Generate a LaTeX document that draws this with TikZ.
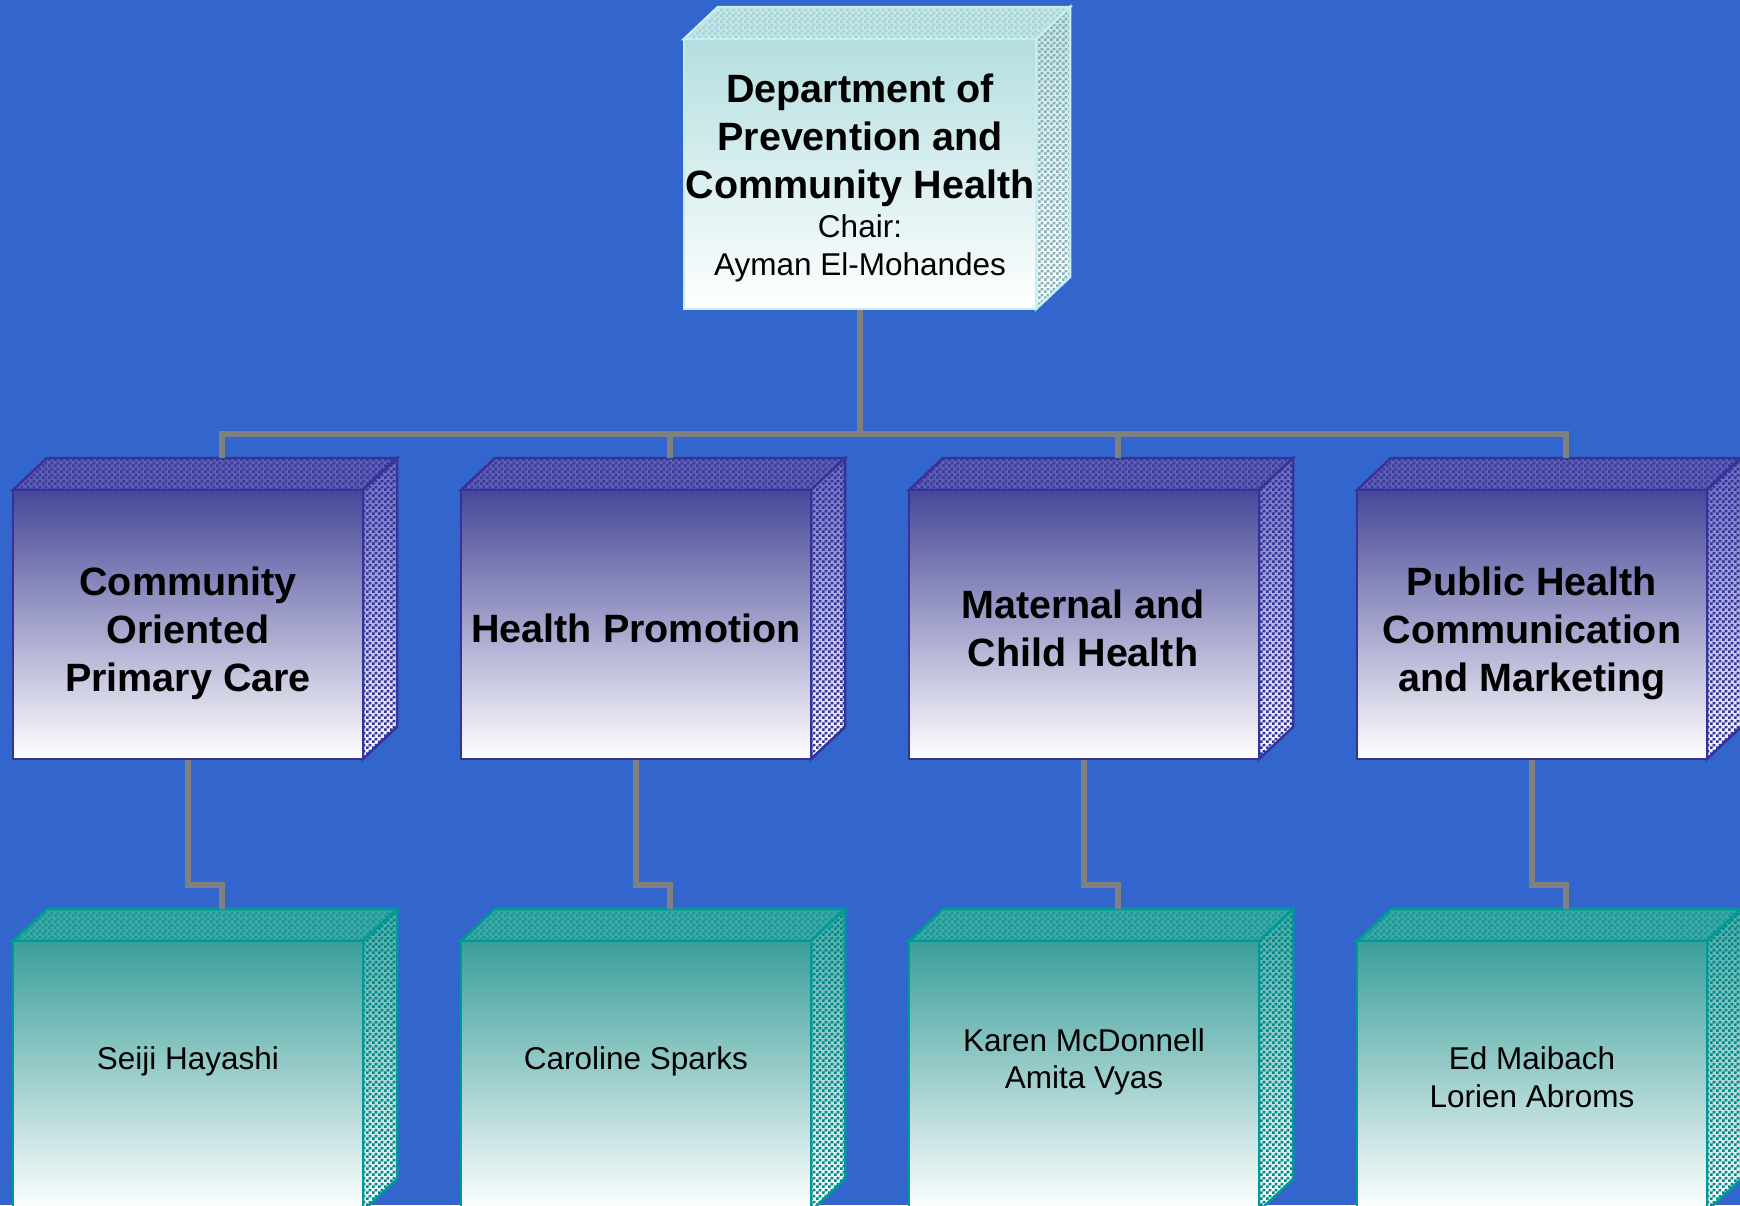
\documentclass[tikz,border=0pt]{standalone}
\usepackage{fontspec}
\setmainfont{Liberation Sans}
\usetikzlibrary{patterns.meta}
\definecolor{bgblue}{HTML}{3366CC}
\definecolor{connc}{HTML}{808080}
% violet (middle row)
\definecolor{vEdge}{HTML}{333399}
\definecolor{vFrontTop}{HTML}{474799}
\definecolor{vTopBase}{HTML}{5E5EB2}
\definecolor{vTopChk}{HTML}{3A3A9C}
\definecolor{vSideTop}{HTML}{6868BA}
\definecolor{vSideChk}{HTML}{333399}
% cyan (top)
\definecolor{cEdge}{HTML}{C6EEEE}
\definecolor{cFrontTop}{HTML}{B4DEE0}
\definecolor{cTopBase}{HTML}{C4E6E6}
\definecolor{cTopChk}{HTML}{A8D2D6}
\definecolor{cSideTop}{HTML}{C4E4E6}
\definecolor{cSideChk}{HTML}{8AAEB6}
% teal (bottom row)
\definecolor{tEdge}{HTML}{009999}
\definecolor{tFrontTop}{HTML}{3A9E9A}
\definecolor{tTopBase}{HTML}{3CAAA6}
\definecolor{tTopChk}{HTML}{1E9696}
\definecolor{tSideTop}{HTML}{44AAA6}
\definecolor{tSideChk}{HTML}{008888}
\pgfdeclarepattern{name=chk, type=uncolored,
  bottom left={\pgfpointorigin}, top right={\pgfpoint{6pt}{6pt}},
  tile size={\pgfpoint{6pt}{6pt}},
  code={\pgfpathrectangle{\pgfpointorigin}{\pgfpoint{3pt}{3pt}}%
        \pgfpathrectangle{\pgfpoint{3pt}{3pt}}{\pgfpoint{3pt}{3pt}}%
        \pgfusepath{fill}}}
\tikzset{
  conn/.style={draw=connc, line width=5.5pt, line cap=butt, line join=miter},
  edgeline/.style={line width=2.5pt, line join=miter},
  % violet
  vfront/.style={draw=vEdge, edgeline, top color=vFrontTop, bottom color=white, inner sep=0pt, rectangle},
  vtopbase/.style={fill=vTopBase}, vtopchk/.style={pattern=chk, pattern color=vTopChk}, vedge/.style={draw=vEdge, edgeline},
  vsidebase/.style={top color=vSideTop, bottom color=white}, vsidechk/.style={pattern=chk, pattern color=vSideChk},
  % cyan
  cfront/.style={draw=cEdge, edgeline, top color=cFrontTop, bottom color=white, inner sep=0pt, rectangle},
  ctopbase/.style={fill=cTopBase}, ctopchk/.style={pattern=chk, pattern color=cTopChk}, cedge/.style={draw=cEdge, edgeline},
  csidebase/.style={top color=cSideTop, bottom color=white}, csidechk/.style={pattern=chk, pattern color=cSideChk},
  % teal
  tfront/.style={draw=tEdge, edgeline, top color=tFrontTop, bottom color=white, inner sep=0pt, rectangle},
  ttopbase/.style={fill=tTopBase}, ttopchk/.style={pattern=chk, pattern color=tTopChk}, tedge/.style={draw=tEdge, edgeline},
  tsidebase/.style={top color=tSideTop, bottom color=white}, tsidechk/.style={pattern=chk, pattern color=tSideChk},
  boldtxt/.style={font=\fontsize{39.5}{48}\bfseries\selectfont, inner sep=0pt, anchor=base},
  regtxt/.style={font=\fontsize{31.5}{38}\selectfont, inner sep=0pt, anchor=base},
}
\newcommand\lns[1]{\begin{tabular}[t]{@{}c@{}}#1\end{tabular}}
% #1 name, #2 x0, #3 y0, #4 x1, #5 y1, #6 scheme letter
\newcommand\boxcube[6]{%
  \path[#6topbase] (#2,#3) -- (#2+34,#3-32) -- (#4+34,#3-32) -- (#4,#3) -- cycle;
  \path[#6topchk] (#2,#3) -- (#2+34,#3-32) -- (#4+34,#3-32) -- (#4,#3) -- cycle;
  \path[#6edge] (#2,#3) -- (#2+34,#3-32) -- (#4+34,#3-32) -- (#4,#3) -- cycle;
  \path[#6sidebase] (#4,#3) -- (#4+34,#3-32) -- (#4+34,#5-32) -- (#4,#5) -- cycle;
  \path[#6sidechk] (#4,#3) -- (#4+34,#3-32) -- (#4+34,#5-32) -- (#4,#5) -- cycle;
  \path[#6edge] (#4,#3) -- (#4+34,#3-32) -- (#4+34,#5-32) -- (#4,#5) -- cycle;
  \node[#6front, minimum width={#4-#2}, minimum height={#5-#3}] (#1) at ({(#2+#4)/2},{(#3+#5)/2}) {};
  \coordinate (#1b) at ({(#2+#4)/2+34},{#3-32});
}
\begin{document}
\begin{tikzpicture}[x=1pt,y=-1pt]
\useasboundingbox (0,0) rectangle (1740,1205);
\fill[bgblue] (0,0) rectangle (1740,1205);

% junction points of the connectors
\coordinate (bus) at (860,434);
\coordinate (j1) at (188,885);
\coordinate (j2) at (636,885);
\coordinate (j3) at (1084,885);
\coordinate (j4) at (1532,885);

% boxes (coordinates needed for connectors are defined here)
\begin{scope}[on background layer/.try]
\end{scope}
\boxcube{top}{684}{39}{1036}{309}{c}
\boxcube{m1}{13}{490}{363}{759}{v}
\boxcube{m2}{461}{490}{811}{759}{v}
\boxcube{m3}{909}{490}{1259}{759}{v}
\boxcube{m4}{1357}{490}{1707}{759}{v}
\boxcube{b1}{13}{941}{363}{1211}{t}
\boxcube{b2}{461}{941}{811}{1211}{t}
\boxcube{b3}{909}{941}{1259}{1211}{t}
\boxcube{b4}{1357}{941}{1707}{1211}{t}

% connectors
\draw[conn] (top.south) -- (bus);
\draw[conn] (bus) -| (m1b);
\draw[conn] (bus) -| (m2b);
\draw[conn] (bus) -| (m3b);
\draw[conn] (bus) -| (m4b);
\draw[conn] (m1.south) -- (j1) -| (b1b);
\draw[conn] (m2.south) -- (j2) -| (b2b);
\draw[conn] (m3.south) -- (j3) -| (b3b);
\draw[conn] (m4.south) -- (j4) -| (b4b);

% texts
\node[boldtxt] (ttop) at (860,102) {\lns{Department of\\Prevention and\\Community Health}};
\node[regtxt] (tchair) at (860,237) {\lns{Chair:\\Ayman El-Mohandes}};

\node[boldtxt] (tm1) at (188,595) {\lns{Community\\Oriented\\Primary Care}};
\node[boldtxt] (tm2) at (636,642) {Health Promotion};
\node[boldtxt] (tm3) at (1083,618) {\lns{Maternal and\\Child Health}};
\node[boldtxt] (tm4) at (1532,595) {\lns{Public Health\\Communication\\and Marketing}};

\node[regtxt] (tb1) at (188,1069) {Seiji Hayashi};
\node[regtxt] (tb2) at (636,1069) {Caroline Sparks};
\node[regtxt] (tb3) at (1084,1051) {\lns{Karen McDonnell\\[-1pt]Amita Vyas}};
\node[regtxt] (tb4) at (1532,1069) {\lns{Ed Maibach\\Lorien Abroms}};
\end{tikzpicture}
\end{document}
